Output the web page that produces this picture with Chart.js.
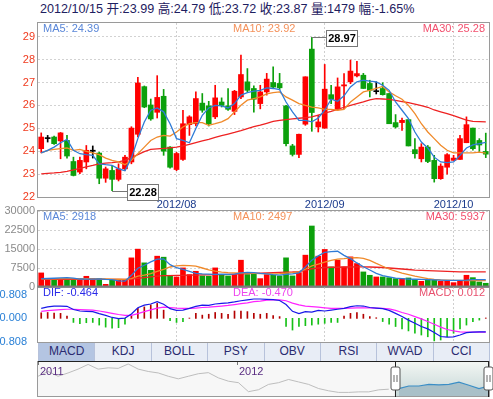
<!DOCTYPE html>
<html>
<head>
<meta charset="utf-8">
<title>K线图</title>
<script src="https://cdn.jsdelivr.net/npm/chart.js@4.4.1/dist/chart.umd.min.js"></script>
<style>
  body { margin: 0; background: #fff; }
  #wrap { position: relative; width: 493px; height: 399px; overflow: hidden;
          font-family: "Liberation Sans", Arial, "Noto Sans CJK SC", sans-serif; }
  #wrap canvas { position: absolute; left: 0; top: 0; }
  #head { position: absolute; left: 40px; top: 1px; line-height: 16px; font-size: 12.6px;
          color: #1e2060; white-space: nowrap; }
  #tabs { position: absolute; left: 38px; top: 342px; width: 451px; height: 19px; display: flex;
          border-right: 1px solid #b7c2db; }
  #tabs span { flex: 1; text-align: center; line-height: 19px; font-size: 12px; color: #2a2b70;
               background: #e8edf6; border-left: 1px solid #b7c2db; }
  #tabs span.on { background: #b4c5e2; }
</style>
</head>
<body>
<div id="wrap">
  <div id="head"></div>
  <div id="tabs"></div>
  <canvas id="cMain" width="493" height="399"></canvas>
  <canvas id="cVol" width="493" height="399"></canvas>
  <canvas id="cMacd" width="493" height="399"></canvas>
  <canvas id="cNav" width="493" height="399"></canvas>
</div>
<script>
// trading days shown in the window
const tradeDays = {
  '2012/07': [3, 4, 5, 6, 9, 10, 11, 12, 13, 16, 17, 18, 19, 20, 23, 24, 25, 26, 27, 30, 31],
  '2012/08': [1, 2, 3, 6, 7, 8, 9, 10, 13, 14, 15, 16, 17, 20, 21, 22, 23, 24, 27, 28, 29, 30, 31],
  '2012/09': [3, 4, 5, 6, 7, 10, 11, 12, 13, 14, 17, 18, 19, 20, 21, 24, 25, 26, 27, 28],
  '2012/10': [8, 9, 10, 11, 12, 15]
};
const dates = Object.entries(tradeDays).flatMap(([m, days]) => days.map(d => m + '/' + String(d).padStart(2, '0')));

const open = [
  24.11, 24.55, 24.62, 24.45, 24.47, 23.55, 23.09, 23.53, 24.00, 23.92,
  22.82, 23.16, 22.77, 23.23, 23.53, 24.74, 26.82, 26.02, 25.70, 26.40,
  24.18, 23.20, 23.64, 25.16, 25.20, 26.10, 25.98, 25.50, 26.15, 25.98,
  25.74, 26.37, 27.03, 26.74, 26.08, 26.59, 27.00, 26.96, 25.98, 24.23,
  23.86, 25.18, 28.46, 25.06, 25.01, 26.47, 25.83, 26.85, 27.03, 27.29,
  27.32, 26.96, 26.60, 26.74, 26.52, 25.25, 25.25, 25.38, 24.07, 23.67,
  24.18, 23.60, 22.80, 23.30, 23.60, 23.64, 24.37, 25.01, 24.47, 23.99
];
const high = [
  24.80, 24.69, 24.66, 24.82, 24.69, 23.74, 23.74, 24.25, 24.23, 23.96,
  23.31, 23.38, 23.45, 23.82, 25.07, 27.23, 26.85, 26.28, 27.30, 26.70,
  24.20, 23.95, 25.79, 25.55, 26.59, 26.52, 26.18, 26.88, 26.33, 26.74,
  26.66, 28.20, 27.61, 26.86, 26.88, 27.40, 27.69, 27.40, 26.00, 24.30,
  24.75, 27.25, 28.97, 25.57, 27.79, 26.88, 27.20, 27.39, 27.98, 27.93,
  27.40, 27.10, 27.03, 26.99, 26.52, 25.60, 25.45, 25.38, 24.55, 24.33,
  24.25, 23.82, 23.45, 23.90, 23.82, 24.69, 25.50, 25.01, 24.55, 24.79
];
const low = [
  23.93, 24.40, 24.30, 23.67, 23.70, 22.92, 23.02, 23.23, 23.70, 22.58,
  22.64, 22.28, 22.70, 23.16, 23.45, 24.62, 25.90, 25.35, 25.45, 23.82,
  23.26, 23.15, 23.60, 24.69, 25.10, 25.70, 25.10, 25.42, 25.93, 25.78,
  25.60, 26.30, 26.58, 25.70, 25.85, 26.45, 26.75, 26.70, 24.23, 23.79,
  23.72, 25.13, 24.87, 24.84, 25.00, 26.08, 25.79, 25.86, 26.95, 27.25,
  26.74, 26.37, 26.50, 26.45, 25.20, 25.01, 24.91, 24.23, 23.70, 23.53,
  23.50, 22.65, 22.77, 23.00, 23.60, 23.64, 24.37, 24.04, 23.99, 23.72
];
const close = [
  24.62, 24.55, 24.33, 24.80, 23.79, 22.94, 23.60, 24.04, 24.00, 22.82,
  23.23, 22.77, 23.23, 23.74, 25.01, 26.98, 25.93, 25.41, 26.35, 24.00,
  23.30, 23.90, 25.20, 25.50, 26.30, 25.79, 25.20, 26.33, 26.00, 25.83,
  26.62, 27.35, 26.66, 26.27, 26.59, 27.15, 26.80, 26.77, 24.33, 23.86,
  24.74, 27.25, 25.69, 25.28, 26.71, 26.27, 26.81, 26.90, 27.50, 27.39,
  26.74, 26.66, 26.60, 26.47, 25.20, 25.06, 25.35, 24.23, 23.89, 24.18,
  23.55, 22.80, 23.35, 23.85, 23.70, 24.55, 25.16, 24.11, 24.27, 23.87
];
const ma5 = [
  23.93, 24.04, 24.18, 24.37, 24.52, 24.04, 23.89, 23.85, 23.82, 23.45,
  23.41, 23.38, 23.23, 23.15, 23.70, 24.55, 25.28, 25.79, 25.89, 25.72,
  25.20, 24.55, 24.47, 24.37, 24.99, 25.57, 25.89, 26.00, 25.98, 25.89,
  26.08, 26.45, 26.56, 26.62, 26.66, 26.77, 26.74, 26.69, 26.15, 25.72,
  25.35, 25.35, 25.28, 25.45, 25.79, 26.27, 26.18, 26.42, 26.81, 27.03,
  27.10, 27.06, 27.03, 26.88, 26.66, 26.15, 25.79, 25.42, 24.84, 24.40,
  24.14, 23.74, 23.53, 23.50, 23.53, 23.82, 24.14, 24.28, 24.33, 24.39
];
const ma10 = [
  23.93, 24.04, 24.08, 24.11, 24.14, 24.04, 24.08, 23.99, 23.93, 23.85,
  23.70, 23.60, 23.53, 23.41, 23.60, 23.89, 24.18, 24.47, 24.62, 24.69,
  24.66, 24.84, 25.06, 25.20, 25.25, 25.25, 25.13, 25.20, 25.28, 25.42,
  25.72, 26.01, 26.23, 26.30, 26.37, 26.50, 26.56, 26.59, 26.37, 26.23,
  26.08, 26.00, 25.93, 25.89, 25.83, 25.83, 25.79, 25.83, 26.15, 26.37,
  26.59, 26.66, 26.74, 26.83, 26.59, 26.42, 26.27, 26.00, 25.64, 25.20,
  24.84, 24.55, 24.26, 24.04, 23.93, 23.93, 23.93, 23.93, 23.96, 23.92
];
const ma30 = [
  23.01, 23.03, 23.05, 23.08, 23.12, 23.18, 23.25, 23.32, 23.38, 23.45,
  23.48, 23.50, 23.53, 23.60, 23.72, 23.85, 23.98, 24.08, 24.10, 24.12,
  24.15, 24.18, 24.23, 24.30, 24.38, 24.45, 24.52, 24.60, 24.68, 24.75,
  24.82, 24.90, 24.99, 25.07, 25.14, 25.22, 25.30, 25.35, 25.38, 25.41,
  25.44, 25.47, 25.50, 25.58, 25.66, 25.74, 25.83, 25.92, 26.00, 26.08,
  26.15, 26.24, 26.30, 26.28, 26.26, 26.22, 26.17, 26.12, 26.06, 25.99,
  25.92, 25.80, 25.72, 25.64, 25.55, 25.46, 25.36, 25.30, 25.29, 25.28
];
const vol = [
  5560, 2910, 2910, 3040, 2910, 2910, 2910, 4230, 3300, 3300,
  1060, 2910, 2910, 2650, 11500, 14950, 9530, 6600, 12170, 11770,
  4630, 3970, 7540, 4900, 6200, 4370, 4230, 7540, 4630, 4370,
  4900, 10580, 4900, 5290, 3310, 4900, 4630, 4370, 11510, 4370,
  5690, 12570, 24080, 12170, 14820, 7940, 10580, 7940, 11900, 9260,
  5950, 4630, 3970, 3970, 3700, 3310, 3310, 3570, 3040, 2250,
  2910, 2650, 2250, 2250, 1720, 2250, 4630, 3700, 1980, 1479
];
const volMa5 = [
  3300, 3350, 3450, 3600, 3700, 3500, 3150, 3100, 3100, 3200,
  3000, 2900, 2400, 2300, 4600, 7400, 8600, 9900, 11000, 11100,
  8800, 7600, 7000, 6200, 5400, 5200, 5100, 5000, 5100, 5000,
  5100, 5600, 5800, 5700, 5400, 5200, 4900, 4700, 5000, 5200,
  5600, 7900, 10600, 12300, 13700, 14000, 14100, 12500, 11200, 9500,
  8000, 6700, 5400, 4500, 4000, 3500, 3300, 3100, 3050, 3000,
  2950, 2800, 2700, 2650, 2600, 2600, 2700, 2900, 2900, 2918
];
const volMa10 = [
  3200, 3200, 3250, 3300, 3300, 3300, 3250, 3250, 3200, 3200,
  3150, 3100, 3050, 3000, 3300, 4300, 4700, 5300, 6200, 7000,
  7900, 8300, 8500, 8400, 8200, 7500, 6800, 6300, 5900, 5700,
  5600, 5500, 5500, 5400, 5300, 5300, 5200, 5300, 5500, 5700,
  6000, 7000, 8300, 9000, 9800, 10500, 11000, 11200, 11500, 11600,
  11300, 10500, 9300, 8200, 7100, 6300, 5500, 4900, 4300, 3800,
  3300, 3000, 2800, 2700, 2650, 2600, 2550, 2520, 2500, 2497
];
const volMa30 = [
  3000, 3000, 3000, 3000, 3000, 3000, 3000, 3000, 3000, 3000,
  3000, 3000, 3000, 3000, 3100, 3400, 3700, 4000, 4300, 4500,
  4500, 4600, 4600, 4700, 4700, 4800, 4800, 4900, 4900, 5000,
  5100, 5200, 5300, 5400, 5500, 5600, 5700, 5800, 5900, 5950,
  6100, 6600, 7200, 7500, 7700, 7800, 7800, 7900, 7900, 7950,
  7950, 7900, 7800, 7700, 7500, 7300, 7100, 6900, 6700, 6600,
  6500, 6400, 6300, 6200, 6100, 6000, 5950, 5950, 5940, 5937
];
const dif = [
  0.34, 0.39, 0.42, 0.42, 0.41, 0.30, 0.25, 0.24, 0.23, 0.16,
  0.10, 0.03, -0.01, 0.01, 0.15, 0.36, 0.45, 0.49, 0.57, 0.48,
  0.33, 0.27, 0.28, 0.34, 0.41, 0.45, 0.44, 0.49, 0.51, 0.53,
  0.56, 0.60, 0.63, 0.66, 0.66, 0.65, 0.64, 0.61, 0.47, 0.24,
  0.16, 0.23, 0.21, 0.27, 0.25, 0.28, 0.31, 0.34, 0.40, 0.43,
  0.42, 0.37, 0.35, 0.33, 0.27, 0.17, 0.06, -0.06, -0.17, -0.28,
  -0.36, -0.48, -0.62, -0.64, -0.63, -0.57, -0.49, -0.47, -0.46, -0.464
];
const dea = [
  0.24, 0.26, 0.28, 0.30, 0.31, 0.31, 0.30, 0.29, 0.28, 0.25,
  0.21, 0.17, 0.13, 0.10, 0.10, 0.16, 0.23, 0.29, 0.35, 0.38,
  0.37, 0.35, 0.34, 0.34, 0.35, 0.37, 0.38, 0.40, 0.42, 0.44,
  0.47, 0.50, 0.53, 0.57, 0.59, 0.62, 0.63, 0.63, 0.60, 0.52,
  0.46, 0.42, 0.40, 0.38, 0.36, 0.34, 0.34, 0.34, 0.35, 0.36,
  0.36, 0.36, 0.35, 0.34, 0.32, 0.27, 0.20, 0.14, 0.06, -0.02,
  -0.11, -0.20, -0.30, -0.38, -0.43, -0.46, -0.47, -0.47, -0.47, -0.470
];
const macd = [
  0.19, 0.20, 0.18, 0.17, 0.08, -0.14, -0.18, -0.15, -0.14, -0.23,
  -0.30, -0.34, -0.32, -0.20, 0.09, 0.34, 0.39, 0.46, 0.51, 0.28,
  -0.08, -0.14, -0.11, 0.01, 0.17, 0.11, 0.14, 0.20, 0.17, 0.14,
  0.25, 0.25, 0.23, 0.17, 0.14, 0.17, 0.09, 0.06, -0.28, -0.40,
  -0.28, -0.25, -0.23, -0.20, -0.17, -0.14, -0.14, 0.08, 0.17, 0.20,
  0.14, 0.06, 0.02, -0.11, -0.20, -0.28, -0.36, -0.43, -0.51, -0.57,
  -0.63, -0.77, -0.74, -0.63, -0.51, -0.36, -0.23, -0.11, -0.06, 0.012
];
const macdTicks = [-0.808, 0, 0.808];

// long history for the navigator strip
const navPrice = [
  34.4, 38.9, 34.4, 37.5, 41.1, 45.5, 41.1, 42.3, 41.8, 45.9,
  41.1, 38.9, 37.5, 34.4, 32.0, 34.4, 36.8, 37.8, 32.9, 29.8,
  28.4, 20.0, 21.8, 26.8, 28.4, 31.4, 29.1, 26.8, 22.9, 20.8,
  19.3, 19.3, 19.8, 19.8, 21.7, 22.3, 22.9, 25.3, 25.3, 26.8,
  26.4, 26.8, 28.9, 26.0, 22.9, 25.3
];
const navYears = [['2011', 0], ['2012', 19.9]];
const navSel = [35.6, 44.9];
const tabNames = ['MACD', 'KDJ', 'BOLL', 'PSY', 'OBV', 'RSI', 'WVAD', 'CCI'];

const RED = '#ff0000', GREEN = '#0ca00c';
const FONT = '"Liberation Sans", Arial, sans-serif';
Chart.defaults.font.family = FONT;
Chart.defaults.font.size = 11;
Chart.defaults.animation = false;
Chart.defaults.plugins.legend.display = false;
Chart.defaults.plugins.tooltip.enabled = false;

const n = dates.length - 1;
const chg = ((close[n] - close[n - 1]) / close[n - 1] * 100).toFixed(2);
document.getElementById('head').textContent =
  `${dates[n]} 开:${open[n].toFixed(2)} 高:${high[n].toFixed(2)} 低:${low[n].toFixed(2)} 收:${close[n].toFixed(2)} 量:${vol[n]} 幅:${chg}%`;
document.getElementById('tabs').innerHTML =
  tabNames.map((t, i) => `<span class="${i === 0 ? 'on' : ''}">${t}</span>`).join('');

const monthStart = i => i > 0 && dates[i].slice(0, 7) !== dates[i - 1].slice(0, 7);
const candleColor = i => close[i] > open[i] ? RED : (close[i] < open[i] ? GREEN : '#000');
const colors = dates.map((d, i) => candleColor(i));
const volColors = dates.map((d, i) => close[i] >= open[i] ? RED : GREEN);
const fixWidth = s => { s.width = 38; };

function xAxis(showLabels) {
  return {
    type: 'category',
    offset: true,
    afterFit: s => { s.height = showLabels ? 14 : 0; },
    ticks: {
      display: showLabels,
      autoSkip: false,
      maxRotation: 0,
      padding: 1,
      color: '#1a3a8c',
      callback: (v, i) => monthStart(i) ? dates[i].slice(0, 7) : ''
    },
    grid: {
      offset: false,
      drawTicks: false,
      color: c => monthStart(c.index) ? '#cfcfcf' : 'rgba(0,0,0,0)'
    },
    border: { display: false, dash: [2, 2] }
  };
}

function line(data, color, width = 1.3) {
  return { type: 'line', data, borderColor: color, borderWidth: width, pointRadius: 0, order: 0 };
}

const frame = {
  id: 'frame',
  afterDraw(chart, args, opts) {
    const { ctx, chartArea: a } = chart;
    const l = Math.round(a.left) - 0.5, t = Math.round(a.top) - 0.5;
    const r = Math.round(a.right) + 0.5, b = Math.round(a.bottom) + 0.5;
    ctx.save();
    ctx.strokeStyle = '#9a9a9a';
    ctx.lineWidth = 1;
    ctx.strokeRect(l, t, r - l, b - t);
    if (opts.heavyTop) {
      ctx.strokeStyle = '#7c7c7c';
      ctx.lineWidth = 2;
      ctx.beginPath();
      ctx.moveTo(l, t);
      ctx.lineTo(r, t);
      ctx.stroke();
    }
    ctx.restore();
  }
};

const maText = {
  id: 'maText',
  afterDraw(chart, args, opts) {
    const { ctx, chartArea: a } = chart;
    ctx.save();
    ctx.font = '11px ' + FONT;
    ctx.textBaseline = 'middle';
    opts.items.forEach(([text, color, pos]) => {
      ctx.fillStyle = color;
      ctx.textAlign = pos === 'right' ? 'right' : 'left';
      const x = pos === 'left' ? a.left + 5 : pos === 'mid' ? a.left + 195 : a.right - 4;
      ctx.fillText(text, x, a.top + 6);
    });
    ctx.restore();
  }
};

// boxes marking the highest high and lowest low
const extremes = {
  id: 'extremes',
  afterDraw(chart) {
    const { ctx } = chart;
    const xs = chart.scales.x, ys = chart.scales.y;
    const iHi = high.indexOf(Math.max(...high));
    const iLo = low.indexOf(Math.min(...low));
    ctx.save();
    ctx.font = 'bold 11px ' + FONT;
    ctx.textAlign = 'center';
    ctx.textBaseline = 'middle';
    [[iHi, high[iHi]], [iLo, low[iLo]]].forEach(([i, v]) => {
      const x = xs.getPixelForValue(i);
      const y = Math.round(ys.getPixelForValue(v)) + 0.5;
      const bx = Math.round(x + 14.5) + 0.5;
      ctx.strokeStyle = '#777';
      ctx.lineWidth = 1;
      ctx.beginPath();
      ctx.moveTo(x, y);
      ctx.lineTo(bx, y);
      ctx.stroke();
      ctx.fillStyle = '#fff';
      ctx.fillRect(bx, y - 7, 31, 16);
      ctx.strokeRect(bx, y - 7, 31, 16);
      ctx.fillStyle = '#000';
      ctx.fillText(v.toFixed(2), bx + 15.5, y + 1);
    });
    ctx.restore();
  }
};

// price panel
new Chart(document.getElementById('cMain'), {
  type: 'bar',
  data: {
    labels: dates,
    datasets: [
      line(ma5, '#2f7bd6'),
      line(ma10, '#f08a2a'),
      line(ma30, '#ee2222'),
      { data: dates.map((d, i) => [low[i], high[i]]), backgroundColor: colors, barThickness: 1, grouped: false, order: 2 },
      { data: dates.map((d, i) => [open[i], close[i]]), backgroundColor: colors, barThickness: 5, minBarLength: 1, grouped: false, order: 1 }
    ]
  },
  options: {
    responsive: false,
    layout: { padding: { left: 0, right: 4, top: 23, bottom: 188 } },
    scales: {
      x: xAxis(true),
      y: {
        min: 22, max: 29.6,
        afterFit: fixWidth,
        ticks: { stepSize: 1, includeBounds: false, color: '#f03a1e', padding: 3 },
        grid: { drawTicks: false, color: '#d2d2d2' },
        border: { display: false, dash: [2, 2] }
      }
    },
    plugins: {
      maText: { items: [
        ['MA5: ' + ma5[n].toFixed(2), '#5a87d8', 'left'],
        ['MA10: ' + ma10[n].toFixed(2), '#f4915a', 'mid'],
        ['MA30: ' + ma30[n].toFixed(2), '#f2506e', 'right']
      ] }
    }
  },
  plugins: [frame, maText, extremes]
});

// volume panel
new Chart(document.getElementById('cVol'), {
  type: 'bar',
  data: {
    labels: dates,
    datasets: [
      line(volMa5, '#2f7bd6'),
      line(volMa10, '#f08a2a'),
      line(volMa30, '#ee2222'),
      { data: vol, backgroundColor: volColors, barThickness: 5, order: 1 }
    ]
  },
  options: {
    responsive: false,
    layout: { padding: { left: 0, right: 4, top: 211, bottom: 112 } },
    scales: {
      x: xAxis(false),
      y: {
        min: 0, max: 30000,
        afterFit: fixWidth,
        ticks: { stepSize: 7500, color: '#8a8a8a', padding: 3, callback: v => String(v) },
        grid: { drawTicks: false, color: '#d2d2d2' },
        border: { display: false, dash: [2, 2] }
      }
    },
    plugins: {
      maText: { items: [
        ['MA5: ' + volMa5[n], '#5a87d8', 'left'],
        ['MA10: ' + volMa10[n], '#f4915a', 'mid'],
        ['MA30: ' + volMa30[n], '#f2506e', 'right']
      ] }
    }
  },
  plugins: [frame, maText]
});

// MACD panel
new Chart(document.getElementById('cMacd'), {
  type: 'bar',
  data: {
    labels: dates,
    datasets: [
      line(dif, '#1818e8', 1.2),
      line(dea, '#ff22ff', 1.2),
      { data: macd, backgroundColor: macd.map(v => v >= 0 ? '#b40000' : '#16c016'), barThickness: 1, order: 1 }
    ]
  },
  options: {
    responsive: false,
    layout: { padding: { left: 0, right: 4, top: 287, bottom: 57 } },
    scales: {
      x: xAxis(false),
      y: {
        min: -0.808, max: 1.07,
        afterFit: fixWidth,
        afterBuildTicks: s => { s.ticks = macdTicks.map(v => ({ value: v })); },
        ticks: { color: '#2a80d6', padding: 3, callback: v => v.toFixed(3) },
        grid: { display: false },
        border: { display: false }
      }
    },
    plugins: {
      frame: { heavyTop: true },
      maText: { items: [
        ['DIF: ' + dif[n].toFixed(3), '#2a2ae8', 'left'],
        ['DEA: ' + dea[n].toFixed(3), '#ee44ee', 'mid'],
        ['MACD: ' + macd[n].toFixed(3), '#e8506e', 'right']
      ] }
    }
  },
  plugins: [frame, maText]
});

// navigator strip
function handle(ctx, cx, top) {
  ctx.beginPath();
  ctx.roundRect(cx - 4.5, top, 9, 23, 2);
  ctx.fillStyle = '#fff';
  ctx.fill();
  ctx.strokeStyle = '#555';
  ctx.lineWidth = 1;
  ctx.stroke();
  ctx.beginPath();
  ctx.moveTo(cx - 1.5, top + 8);
  ctx.lineTo(cx - 1.5, top + 15);
  ctx.moveTo(cx + 1.5, top + 8);
  ctx.lineTo(cx + 1.5, top + 15);
  ctx.strokeStyle = '#666';
  ctx.stroke();
}

const navPlugin = {
  id: 'nav',
  beforeDatasetsDraw(chart) {
    const { ctx, chartArea: a, scales: { x } } = chart;
    const s0 = x.getPixelForValue(navSel[0]), s1 = x.getPixelForValue(navSel[1]);
    ctx.save();
    ctx.fillStyle = '#f7f7f7';
    ctx.fillRect(a.left, a.top, a.right - a.left, a.bottom - a.top);
    const g = ctx.createLinearGradient(0, a.top, 0, a.bottom);
    g.addColorStop(0, '#f4f7f4');
    g.addColorStop(1, '#c4d6d6');
    ctx.fillStyle = g;
    ctx.fillRect(s0, a.top, s1 - s0, a.bottom - a.top);
    ctx.restore();
  },
  afterDatasetsDraw(chart) {
    const { ctx, chartArea: a, scales: { x } } = chart;
    const s0 = Math.round(x.getPixelForValue(navSel[0])) + 0.5;
    const s1 = Math.round(x.getPixelForValue(navSel[1])) + 0.5;
    ctx.save();
    ctx.font = '11px ' + FONT;
    ctx.textBaseline = 'middle';
    ctx.fillStyle = '#5a2d82';
    ctx.strokeStyle = '#777';
    ctx.lineWidth = 1;
    navYears.forEach(([label, idx]) => {
      const px = Math.round(x.getPixelForValue(idx)) + 0.5;
      ctx.beginPath();
      ctx.moveTo(px, a.top);
      ctx.lineTo(px, a.top + 4);
      ctx.stroke();
      ctx.fillText(label, px + 1.5, a.top + 11);
    });
    ctx.strokeStyle = '#9a9a9a';
    ctx.strokeRect(Math.round(a.left) - 0.5, Math.round(a.top) + 0.5, Math.round(a.right - a.left) + 1, Math.round(a.bottom - a.top) - 1);
    ctx.strokeStyle = '#222';
    ctx.beginPath();
    ctx.moveTo(a.left, Math.round(a.top) + 0.5);
    ctx.lineTo(a.right, Math.round(a.top) + 0.5);
    ctx.moveTo(s0, a.top);
    ctx.lineTo(s0, a.bottom);
    ctx.moveTo(s1, a.top);
    ctx.lineTo(s1, a.bottom);
    ctx.stroke();
    handle(ctx, s0, a.top + 6);
    handle(ctx, s1, a.top + 6);
    ctx.restore();
  }
};

new Chart(document.getElementById('cNav'), {
  type: 'line',
  data: {
    labels: navPrice.map((v, i) => i),
    datasets: [
      { data: navPrice.map((v, i) => i <= 35 ? v : null), borderColor: '#bdbdbd', borderWidth: 1, pointRadius: 0 },
      { data: navPrice.map((v, i) => i >= 36 ? v : null), borderColor: '#3b8ec6', borderWidth: 1.2, pointRadius: 0,
        fill: 'start', backgroundColor: '#a9c0c8' }
    ]
  },
  options: {
    responsive: false,
    layout: { padding: { left: 38, right: 4, top: 361, bottom: 2 } },
    scales: {
      x: { display: false, offset: false },
      y: { display: false, min: 15, max: 48.7 }
    }
  },
  plugins: [navPlugin]
});
</script>
</body>
</html>
